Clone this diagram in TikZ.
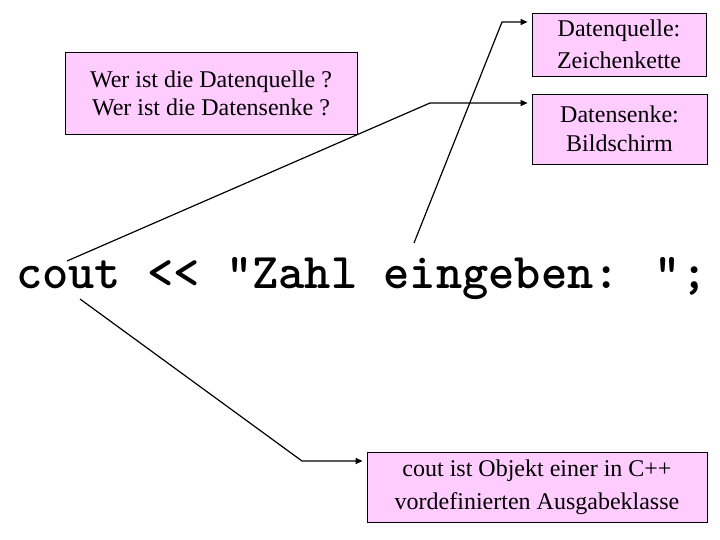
\documentclass[tikz,border=0pt]{standalone}
\usepackage{fontspec}
\setmainfont{Liberation Serif}
\usetikzlibrary{arrows.meta}
\definecolor{boxpink}{HTML}{FFCCFF}
\tikzset{
  infobox/.style={draw=black, line width=0.8pt, fill=boxpink, align=center,
    inner sep=0pt, font=\fontsize{24}{29}\selectfont},
  conn/.style={line width=1.2pt, line join=miter},
  arr/.style={conn, -{Triangle[length=7pt,width=6pt]}, shorten >=4pt}
}
\begin{document}
\begin{tikzpicture}[x=1pt,y=-1pt]
\useasboundingbox[fill=white] (0,0) rectangle (720,540);
\node[infobox, minimum width=292pt, minimum height=82pt, font=\fontsize{24}{28}\selectfont] (q) at (211,93)
  {Wer ist die Datenquelle ?\\Wer ist die Datensenke ?};
\node[infobox, minimum width=174pt, minimum height=63pt, font=\fontsize{24}{32}\selectfont] (src) at (619,44.5)
  {Datenquelle:\\Zeichenkette};
\node[infobox, minimum width=175pt, minimum height=70pt] (snk) at (619.5,129)
  {Datensenke:\\Bildschirm};
\node[infobox, minimum width=340pt, minimum height=70pt, font=\fontsize{24}{33}\selectfont] (obj) at (537,487)
  {cout ist Objekt einer in C++\\vordefinierten Ausgabeklasse};
\node[anchor=base west, inner sep=0pt, font=\ttfamily\bfseries\fontsize{50}{50}\selectfont] (code) at (16,288)
  {cout << "Zahl eingeben: ";};
% connectors
\coordinate (a1) at (67,261);
\coordinate (b1) at (430,103);
\coordinate (a2) at (414,243);
\coordinate (b2) at (502,22);
\coordinate (a3) at (80,299);
\coordinate (b3) at (302,461);
\draw[arr] (a1) -- (b1) -- (b1 -| snk.west);
\draw[arr] (a2) -- (b2) -- (b2 -| src.west);
\draw[arr] (a3) -- (b3) -- (b3 -| obj.west);
\end{tikzpicture}
\end{document}
